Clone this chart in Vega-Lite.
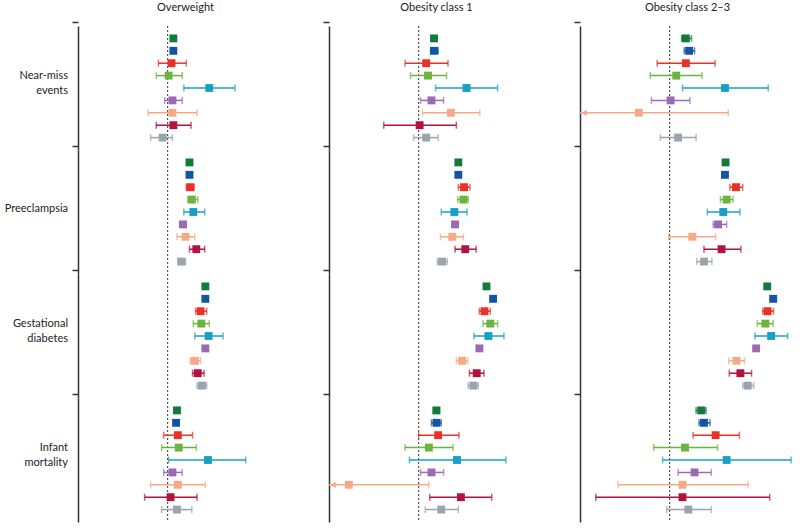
{
  "$schema": "https://vega.github.io/schema/vega-lite/v6.json",
  "padding": {"left": 4, "top": 2, "right": 0, "bottom": 0},
  "background": "white",
  "config": {"view": {"stroke": null}, "font": "Lato"},
  "datasets": {
    "rows": [
      {"outcome":"Near-miss events","exposure":"Overweight","cohort":"A","or":1.06,"lo":1.04,"hi":1.08},
      {"outcome":"Near-miss events","exposure":"Overweight","cohort":"B","or":1.06,"lo":1.04,"hi":1.08},
      {"outcome":"Near-miss events","exposure":"Overweight","cohort":"C","or":1.04,"lo":0.91,"hi":1.21},
      {"outcome":"Near-miss events","exposure":"Overweight","cohort":"D","or":1.01,"lo":0.89,"hi":1.16},
      {"outcome":"Near-miss events","exposure":"Overweight","cohort":"E","or":1.53,"lo":1.18,"hi":1.99},
      {"outcome":"Near-miss events","exposure":"Overweight","cohort":"F","or":1.05,"lo":0.97,"hi":1.16},
      {"outcome":"Near-miss events","exposure":"Overweight","cohort":"G","or":1.05,"lo":0.82,"hi":1.35},
      {"outcome":"Near-miss events","exposure":"Overweight","cohort":"H","or":1.06,"lo":0.89,"hi":1.27},
      {"outcome":"Near-miss events","exposure":"Overweight","cohort":"I","or":0.95,"lo":0.84,"hi":1.05},
      {"outcome":"Preeclampsia","exposure":"Overweight","cohort":"A","or":1.25,"lo":1.23,"hi":1.27},
      {"outcome":"Preeclampsia","exposure":"Overweight","cohort":"B","or":1.25,"lo":1.23,"hi":1.27},
      {"outcome":"Preeclampsia","exposure":"Overweight","cohort":"C","or":1.26,"lo":1.21,"hi":1.31},
      {"outcome":"Preeclampsia","exposure":"Overweight","cohort":"D","or":1.28,"lo":1.23,"hi":1.36},
      {"outcome":"Preeclampsia","exposure":"Overweight","cohort":"E","or":1.30,"lo":1.18,"hi":1.46},
      {"outcome":"Preeclampsia","exposure":"Overweight","cohort":"F","or":1.17,"lo":1.13,"hi":1.20},
      {"outcome":"Preeclampsia","exposure":"Overweight","cohort":"G","or":1.20,"lo":1.10,"hi":1.32},
      {"outcome":"Preeclampsia","exposure":"Overweight","cohort":"H","or":1.34,"lo":1.25,"hi":1.46},
      {"outcome":"Preeclampsia","exposure":"Overweight","cohort":"I","or":1.15,"lo":1.11,"hi":1.20},
      {"outcome":"Gestational diabetes","exposure":"Overweight","cohort":"A","or":1.47,"lo":1.45,"hi":1.50},
      {"outcome":"Gestational diabetes","exposure":"Overweight","cohort":"B","or":1.47,"lo":1.45,"hi":1.50},
      {"outcome":"Gestational diabetes","exposure":"Overweight","cohort":"C","or":1.40,"lo":1.33,"hi":1.49},
      {"outcome":"Gestational diabetes","exposure":"Overweight","cohort":"D","or":1.41,"lo":1.30,"hi":1.53},
      {"outcome":"Gestational diabetes","exposure":"Overweight","cohort":"E","or":1.52,"lo":1.32,"hi":1.76},
      {"outcome":"Gestational diabetes","exposure":"Overweight","cohort":"F","or":1.47,"lo":1.45,"hi":1.50},
      {"outcome":"Gestational diabetes","exposure":"Overweight","cohort":"G","or":1.32,"lo":1.26,"hi":1.40},
      {"outcome":"Gestational diabetes","exposure":"Overweight","cohort":"H","or":1.36,"lo":1.29,"hi":1.45},
      {"outcome":"Gestational diabetes","exposure":"Overweight","cohort":"I","or":1.42,"lo":1.35,"hi":1.49},
      {"outcome":"Infant mortality","exposure":"Overweight","cohort":"A","or":1.10,"lo":1.08,"hi":1.12},
      {"outcome":"Infant mortality","exposure":"Overweight","cohort":"B","or":1.09,"lo":1.06,"hi":1.12},
      {"outcome":"Infant mortality","exposure":"Overweight","cohort":"C","or":1.11,"lo":0.96,"hi":1.29},
      {"outcome":"Infant mortality","exposure":"Overweight","cohort":"D","or":1.12,"lo":0.94,"hi":1.34},
      {"outcome":"Infant mortality","exposure":"Overweight","cohort":"E","or":1.51,"lo":1.01,"hi":2.22},
      {"outcome":"Infant mortality","exposure":"Overweight","cohort":"F","or":1.05,"lo":0.96,"hi":1.16},
      {"outcome":"Infant mortality","exposure":"Overweight","cohort":"G","or":1.11,"lo":0.84,"hi":1.47},
      {"outcome":"Infant mortality","exposure":"Overweight","cohort":"H","or":1.03,"lo":0.79,"hi":1.35},
      {"outcome":"Infant mortality","exposure":"Overweight","cohort":"I","or":1.10,"lo":0.94,"hi":1.28},

      {"outcome":"Near-miss events","exposure":"Obesity class 1","cohort":"A","or":1.17,"lo":1.15,"hi":1.19},
      {"outcome":"Near-miss events","exposure":"Obesity class 1","cohort":"B","or":1.17,"lo":1.13,"hi":1.22},
      {"outcome":"Near-miss events","exposure":"Obesity class 1","cohort":"C","or":1.08,"lo":0.87,"hi":1.35},
      {"outcome":"Near-miss events","exposure":"Obesity class 1","cohort":"D","or":1.10,"lo":0.92,"hi":1.33},
      {"outcome":"Near-miss events","exposure":"Obesity class 1","cohort":"E","or":1.63,"lo":1.19,"hi":2.24},
      {"outcome":"Near-miss events","exposure":"Obesity class 1","cohort":"F","or":1.14,"lo":1.02,"hi":1.29},
      {"outcome":"Near-miss events","exposure":"Obesity class 1","cohort":"G","or":1.39,"lo":1.04,"hi":1.87},
      {"outcome":"Near-miss events","exposure":"Obesity class 1","cohort":"H","or":1.01,"lo":0.70,"hi":1.47},
      {"outcome":"Near-miss events","exposure":"Obesity class 1","cohort":"I","or":1.08,"lo":0.95,"hi":1.22},
      {"outcome":"Preeclampsia","exposure":"Obesity class 1","cohort":"A","or":1.50,"lo":1.47,"hi":1.53},
      {"outcome":"Preeclampsia","exposure":"Obesity class 1","cohort":"B","or":1.50,"lo":1.47,"hi":1.53},
      {"outcome":"Preeclampsia","exposure":"Obesity class 1","cohort":"C","or":1.59,"lo":1.50,"hi":1.69},
      {"outcome":"Preeclampsia","exposure":"Obesity class 1","cohort":"D","or":1.58,"lo":1.49,"hi":1.66},
      {"outcome":"Preeclampsia","exposure":"Obesity class 1","cohort":"E","or":1.44,"lo":1.26,"hi":1.64},
      {"outcome":"Preeclampsia","exposure":"Obesity class 1","cohort":"F","or":1.45,"lo":1.41,"hi":1.50},
      {"outcome":"Preeclampsia","exposure":"Obesity class 1","cohort":"G","or":1.41,"lo":1.25,"hi":1.58},
      {"outcome":"Preeclampsia","exposure":"Obesity class 1","cohort":"H","or":1.61,"lo":1.45,"hi":1.80},
      {"outcome":"Preeclampsia","exposure":"Obesity class 1","cohort":"I","or":1.27,"lo":1.21,"hi":1.34},
      {"outcome":"Gestational diabetes","exposure":"Obesity class 1","cohort":"A","or":2.00,"lo":1.96,"hi":2.04},
      {"outcome":"Gestational diabetes","exposure":"Obesity class 1","cohort":"B","or":2.14,"lo":2.10,"hi":2.18},
      {"outcome":"Gestational diabetes","exposure":"Obesity class 1","cohort":"C","or":1.96,"lo":1.86,"hi":2.08},
      {"outcome":"Gestational diabetes","exposure":"Obesity class 1","cohort":"D","or":2.08,"lo":1.93,"hi":2.24},
      {"outcome":"Gestational diabetes","exposure":"Obesity class 1","cohort":"E","or":2.04,"lo":1.76,"hi":2.39},
      {"outcome":"Gestational diabetes","exposure":"Obesity class 1","cohort":"F","or":1.86,"lo":1.82,"hi":1.89},
      {"outcome":"Gestational diabetes","exposure":"Obesity class 1","cohort":"G","or":1.56,"lo":1.47,"hi":1.65},
      {"outcome":"Gestational diabetes","exposure":"Obesity class 1","cohort":"H","or":1.81,"lo":1.68,"hi":1.95},
      {"outcome":"Gestational diabetes","exposure":"Obesity class 1","cohort":"I","or":1.75,"lo":1.66,"hi":1.84},
      {"outcome":"Infant mortality","exposure":"Obesity class 1","cohort":"A","or":1.20,"lo":1.16,"hi":1.23},
      {"outcome":"Infant mortality","exposure":"Obesity class 1","cohort":"B","or":1.20,"lo":1.14,"hi":1.26},
      {"outcome":"Infant mortality","exposure":"Obesity class 1","cohort":"C","or":1.22,"lo":1.00,"hi":1.51},
      {"outcome":"Infant mortality","exposure":"Obesity class 1","cohort":"D","or":1.11,"lo":0.87,"hi":1.42},
      {"outcome":"Infant mortality","exposure":"Obesity class 1","cohort":"E","or":1.48,"lo":0.91,"hi":2.44},
      {"outcome":"Infant mortality","exposure":"Obesity class 1","cohort":"F","or":1.14,"lo":1.02,"hi":1.29},
      {"outcome":"Infant mortality","exposure":"Obesity class 1","cohort":"G","or":0.49,"lo":0.25,"hi":1.11},
      {"outcome":"Infant mortality","exposure":"Obesity class 1","cohort":"H","or":1.54,"lo":1.12,"hi":2.11},
      {"outcome":"Infant mortality","exposure":"Obesity class 1","cohort":"I","or":1.26,"lo":1.07,"hi":1.50},

      {"outcome":"Near-miss events","exposure":"Obesity class 2–3","cohort":"A","or":1.18,"lo":1.13,"hi":1.25},
      {"outcome":"Near-miss events","exposure":"Obesity class 2–3","cohort":"B","or":1.22,"lo":1.16,"hi":1.29},
      {"outcome":"Near-miss events","exposure":"Obesity class 2–3","cohort":"C","or":1.18,"lo":0.88,"hi":1.59},
      {"outcome":"Near-miss events","exposure":"Obesity class 2–3","cohort":"D","or":1.07,"lo":0.82,"hi":1.39},
      {"outcome":"Near-miss events","exposure":"Obesity class 2–3","cohort":"E","or":1.76,"lo":1.14,"hi":2.74},
      {"outcome":"Near-miss events","exposure":"Obesity class 2–3","cohort":"F","or":1.01,"lo":0.83,"hi":1.23},
      {"outcome":"Near-miss events","exposure":"Obesity class 2–3","cohort":"G","or":0.73,"lo":0.20,"hi":1.82},
      {"outcome":"Near-miss events","exposure":"Obesity class 2–3","cohort":"I","or":1.09,"lo":0.91,"hi":1.31},
      {"outcome":"Preeclampsia","exposure":"Obesity class 2–3","cohort":"A","or":1.77,"lo":1.74,"hi":1.81},
      {"outcome":"Preeclampsia","exposure":"Obesity class 2–3","cohort":"B","or":1.76,"lo":1.73,"hi":1.80},
      {"outcome":"Preeclampsia","exposure":"Obesity class 2–3","cohort":"C","or":1.97,"lo":1.85,"hi":2.11},
      {"outcome":"Preeclampsia","exposure":"Obesity class 2–3","cohort":"D","or":1.79,"lo":1.68,"hi":1.91},
      {"outcome":"Preeclampsia","exposure":"Obesity class 2–3","cohort":"E","or":1.73,"lo":1.47,"hi":2.05},
      {"outcome":"Preeclampsia","exposure":"Obesity class 2–3","cohort":"F","or":1.64,"lo":1.56,"hi":1.79},
      {"outcome":"Preeclampsia","exposure":"Obesity class 2–3","cohort":"G","or":1.26,"lo":0.99,"hi":1.60},
      {"outcome":"Preeclampsia","exposure":"Obesity class 2–3","cohort":"H","or":1.70,"lo":1.42,"hi":2.07},
      {"outcome":"Preeclampsia","exposure":"Obesity class 2–3","cohort":"I","or":1.42,"lo":1.32,"hi":1.54},
      {"outcome":"Gestational diabetes","exposure":"Obesity class 2–3","cohort":"A","or":2.71,"lo":2.66,"hi":2.76},
      {"outcome":"Gestational diabetes","exposure":"Obesity class 2–3","cohort":"B","or":2.88,"lo":2.82,"hi":2.94},
      {"outcome":"Gestational diabetes","exposure":"Obesity class 2–3","cohort":"C","or":2.72,"lo":2.59,"hi":2.89},
      {"outcome":"Gestational diabetes","exposure":"Obesity class 2–3","cohort":"D","or":2.66,"lo":2.45,"hi":2.88},
      {"outcome":"Gestational diabetes","exposure":"Obesity class 2–3","cohort":"E","or":2.82,"lo":2.39,"hi":3.34},
      {"outcome":"Gestational diabetes","exposure":"Obesity class 2–3","cohort":"F","or":2.42,"lo":2.37,"hi":2.47},
      {"outcome":"Gestational diabetes","exposure":"Obesity class 2–3","cohort":"G","or":1.98,"lo":1.83,"hi":2.15},
      {"outcome":"Gestational diabetes","exposure":"Obesity class 2–3","cohort":"H","or":2.06,"lo":1.84,"hi":2.31},
      {"outcome":"Gestational diabetes","exposure":"Obesity class 2–3","cohort":"I","or":2.22,"lo":2.11,"hi":2.36},
      {"outcome":"Infant mortality","exposure":"Obesity class 2–3","cohort":"A","or":1.38,"lo":1.31,"hi":1.45},
      {"outcome":"Infant mortality","exposure":"Obesity class 2–3","cohort":"B","or":1.42,"lo":1.35,"hi":1.51},
      {"outcome":"Infant mortality","exposure":"Obesity class 2–3","cohort":"C","or":1.60,"lo":1.27,"hi":2.04},
      {"outcome":"Infant mortality","exposure":"Obesity class 2–3","cohort":"D","or":1.17,"lo":0.85,"hi":1.63},
      {"outcome":"Infant mortality","exposure":"Obesity class 2–3","cohort":"E","or":1.79,"lo":0.93,"hi":3.46},
      {"outcome":"Infant mortality","exposure":"Obesity class 2–3","cohort":"F","or":1.29,"lo":1.09,"hi":1.53},
      {"outcome":"Infant mortality","exposure":"Obesity class 2–3","cohort":"G","or":1.14,"lo":0.59,"hi":2.23},
      {"outcome":"Infant mortality","exposure":"Obesity class 2–3","cohort":"H","or":1.14,"lo":0.47,"hi":2.78},
      {"outcome":"Infant mortality","exposure":"Obesity class 2–3","cohort":"I","or":1.21,"lo":0.97,"hi":1.53}
    ]
  },
  "data": {"name": "rows"},
  "facet": {
    "row": {
      "field": "outcome",
      "type": "nominal",
      "sort": ["Near-miss events", "Preeclampsia", "Gestational diabetes", "Infant mortality"],
      "header": {"title": null, "labels": false}
    },
    "column": {
      "field": "exposure",
      "type": "nominal",
      "sort": ["Overweight", "Obesity class 1", "Obesity class 2–3"],
      "header": {
        "title": null,
        "labelOrient": "top",
        "labelFont": "Lato",
        "labelFontSize": 11,
        "labelColor": "#222",
        "labelPadding": 13
      }
    }
  },
  "spacing": {"row": 0, "column": 36},
  "bounds": "flush",
  "resolve": {"axis": {"y": "independent"}},
  "spec": {
    "width": 215,
    "height": 124,
    "layer": [
      {
        "transform": [{"filter": "datum.cohort == 'A'"}],
        "mark": {"type": "rule", "strokeDash": [2, 2], "color": "#333", "strokeWidth": 1},
        "encoding": {
          "x": {"datum": 1, "type": "quantitative", "scale": {"type": "log", "domain": [0.4, 3.6], "clamp": true, "nice": false}, "axis": null}
        }
      },
      {
        "mark": {"type": "rule", "strokeWidth": 1.5},
        "encoding": {
          "x": {"field": "lo", "type": "quantitative", "scale": {"type": "log", "domain": [0.4, 3.6], "clamp": true, "nice": false}, "axis": null},
          "x2": {"field": "hi"},
          "y": {
            "field": "cohort",
            "type": "nominal",
            "scale": {"type": "point", "domain": ["A","B","C","D","E","F","G","H","I"], "padding": 1.42},
            "axis": {
              "values": ["A"],
              "labels": false,
              "ticks": true,
              "tickSize": 6,
              "tickOffset": -16.24,
              "tickColor": "#333",
              "tickWidth": 1.5,
              "domain": true,
              "domainColor": "#333",
              "domainWidth": 1.5,
              "grid": false,
              "title": null
            }
          },
          "color": {"field": "cohort", "type": "nominal", "scale": {"domain": ["A","B","C","D","E","F","G","H","I"], "range": ["#137a3c","#1155a3","#ea3128","#6cb33f","#18a0c4","#9a6bb4","#f5a987","#b1123f","#9aa4ad"]}, "legend": null}
        }
      },
      {
        "transform": [{"filter": "datum.lo >= 0.4"}],
        "mark": {"type": "tick", "thickness": 1.5, "size": 7, "orient": "vertical"},
        "encoding": {
          "x": {"field": "lo", "type": "quantitative"},
          "y": {"field": "cohort", "type": "nominal"},
          "color": {"field": "cohort", "type": "nominal"}
        }
      },
      {
        "mark": {"type": "tick", "thickness": 1.5, "size": 7, "orient": "vertical"},
        "encoding": {
          "x": {"field": "hi", "type": "quantitative"},
          "y": {"field": "cohort", "type": "nominal"},
          "color": {"field": "cohort", "type": "nominal"}
        }
      },
      {
        "transform": [{"filter": "datum.lo < 0.4"}],
        "mark": {"type": "point", "shape": "triangle-left", "filled": true, "size": 40, "opacity": 1, "xOffset": 4},
        "encoding": {
          "x": {"field": "lo", "type": "quantitative"},
          "y": {"field": "cohort", "type": "nominal"},
          "color": {"field": "cohort", "type": "nominal"}
        }
      },
      {
        "mark": {"type": "point", "shape": "square", "filled": true, "size": 62, "opacity": 1},
        "encoding": {
          "x": {"field": "or", "type": "quantitative"},
          "y": {"field": "cohort", "type": "nominal"},
          "color": {"field": "cohort", "type": "nominal"}
        }
      },
      {
        "transform": [{"filter": "datum.exposure == 'Overweight' && datum.cohort == 'E'"}],
        "mark": {"type": "text", "align": "right", "baseline": "middle", "dx": -10, "dy": {"expr": "indexof(datum.outcome, ' ') >= 0 ? -12 : -3"}, "lineBreak": " ", "lineHeight": 15, "font": "Lato", "fontSize": 11, "color": "#222"},
        "encoding": {
          "x": {"datum": 0.4, "type": "quantitative"},
          "y": {"field": "cohort", "type": "nominal"},
          "text": {"field": "outcome"}
        }
      }
    ]
  }
}
